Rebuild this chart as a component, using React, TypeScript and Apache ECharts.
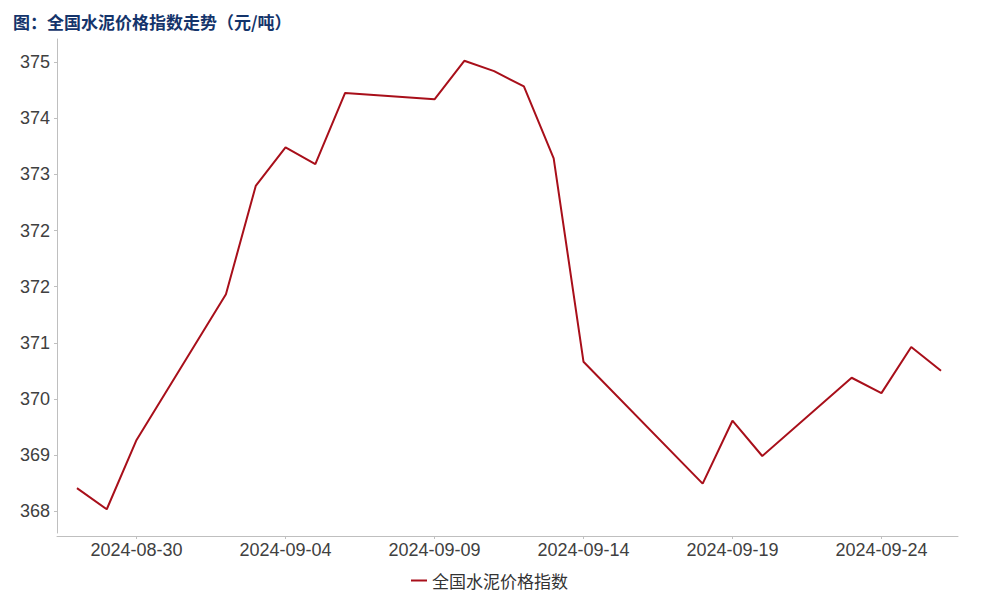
import React, { useEffect, useRef } from "react";
import * as echarts from "echarts";

// 日期与指数（元/吨）
const dates = [
  "2024-08-28", "2024-08-29", "2024-08-30", "2024-09-02", "2024-09-03",
  "2024-09-04", "2024-09-05", "2024-09-06", "2024-09-09", "2024-09-10",
  "2024-09-11", "2024-09-12", "2024-09-13", "2024-09-14", "2024-09-18",
  "2024-09-19", "2024-09-20", "2024-09-23", "2024-09-24", "2024-09-25",
  "2024-09-26",
];
const cementIndex = [
  368.36, 368.03, 369.11, 371.38, 373.07,
  373.67, 373.41, 374.52, 374.42, 375.02,
  374.86, 374.62, 373.5, 370.33, 368.43,
  369.41, 368.86, 370.08, 369.84, 370.56,
  370.19,
];
const xTickLabels = ["2024-08-30", "2024-09-04", "2024-09-09", "2024-09-14", "2024-09-19", "2024-09-24"];
const yTickValues = [368, 368.875, 369.75, 370.625, 371.5, 372.375, 373.25, 374.125, 375];

const seriesName = "全国水泥价格指数";
const titleText = "图：全国水泥价格指数走势（元/吨）";

// 以首个日期为 0 的天数
const DAY = 24 * 3600 * 1000;
const toTime = (s: string) => {
  const [y, m, d] = s.split("-").map(Number);
  return Date.UTC(y, m - 1, d);
};
const origin = toTime(dates[0]);
const dayIdx = (s: string) => Math.round((toTime(s) - origin) / DAY);
const pad = (n: number) => (n < 10 ? "0" + n : "" + n);
const idxToDate = (v: number) => {
  const d = new Date(origin + Math.round(v) * DAY);
  return d.getUTCFullYear() + "-" + pad(d.getUTCMonth() + 1) + "-" + pad(d.getUTCDate());
};

const App: React.FC = () => {
  const chartRef = useRef<HTMLDivElement>(null);

  useEffect(() => {
    document.body.style.margin = "0";
    const chart = echarts.init(chartRef.current!, null, { renderer: "svg" });
    const axisColor = "#bfbfbf";
    const labelFont = "Liberation Sans";
    const xTicks = xTickLabels.map(dayIdx);

    chart.setOption({
      animation: false,
      backgroundColor: "#ffffff",
      title: {
        text: titleText,
        left: 8,
        top: 8,
        textStyle: {
          fontSize: 17,
          fontWeight: "bold",
          color: "#14346b",
          fontFamily: "Noto Sans CJK SC",
        },
      },
      legend: {
        data: [seriesName],
        left: 406,
        top: 567,
        icon: "rect",
        itemWidth: 16,
        itemHeight: 2,
        textStyle: {
          fontSize: 17,
          color: "#333333",
          fontFamily: "Noto Sans CJK SC",
        },
      },
      grid: { left: 57, right: 42, top: 39, bottom: 67, containLabel: false },
      xAxis: {
        type: "value",
        min: -0.67,
        max: dayIdx(dates[dates.length - 1]) + 0.57,
        offset: 3,
        axisLine: { show: true, onZero: false, lineStyle: { color: axisColor, width: 1 } },
        axisTick: {
          show: true,
          length: 3,
          customValues: xTicks,
          lineStyle: { color: axisColor },
        },
        axisLabel: {
          customValues: xTicks,
          formatter: (v: number) => idxToDate(v),
          fontSize: 18,
          color: "#404040",
          fontFamily: labelFont,
          margin: 5,
        },
        splitLine: { show: false },
      },
      yAxis: {
        type: "value",
        min: 367.66,
        max: 375.36,
        axisLine: { show: true, onZero: false, lineStyle: { color: axisColor, width: 1 } },
        axisTick: {
          show: true,
          length: 3,
          customValues: yTickValues,
          lineStyle: { color: axisColor },
        },
        axisLabel: {
          customValues: yTickValues,
          formatter: (v: number) => String(Math.round(v)),
          fontSize: 18,
          color: "#404040",
          fontFamily: labelFont,
          margin: 7,
        },
        splitLine: { show: false },
      },
      series: [
        {
          name: seriesName,
          type: "line",
          data: dates.map((d, i) => [dayIdx(d), cementIndex[i]]),
          symbol: "none",
          lineStyle: { color: "#a80f1a", width: 2 },
          itemStyle: { color: "#a80f1a" },
        },
      ],
    });

    return () => {
      chart.dispose();
    };
  }, []);

  return <div ref={chartRef} style={{ width: 1000, height: 600 }} />;
};

export default App;
